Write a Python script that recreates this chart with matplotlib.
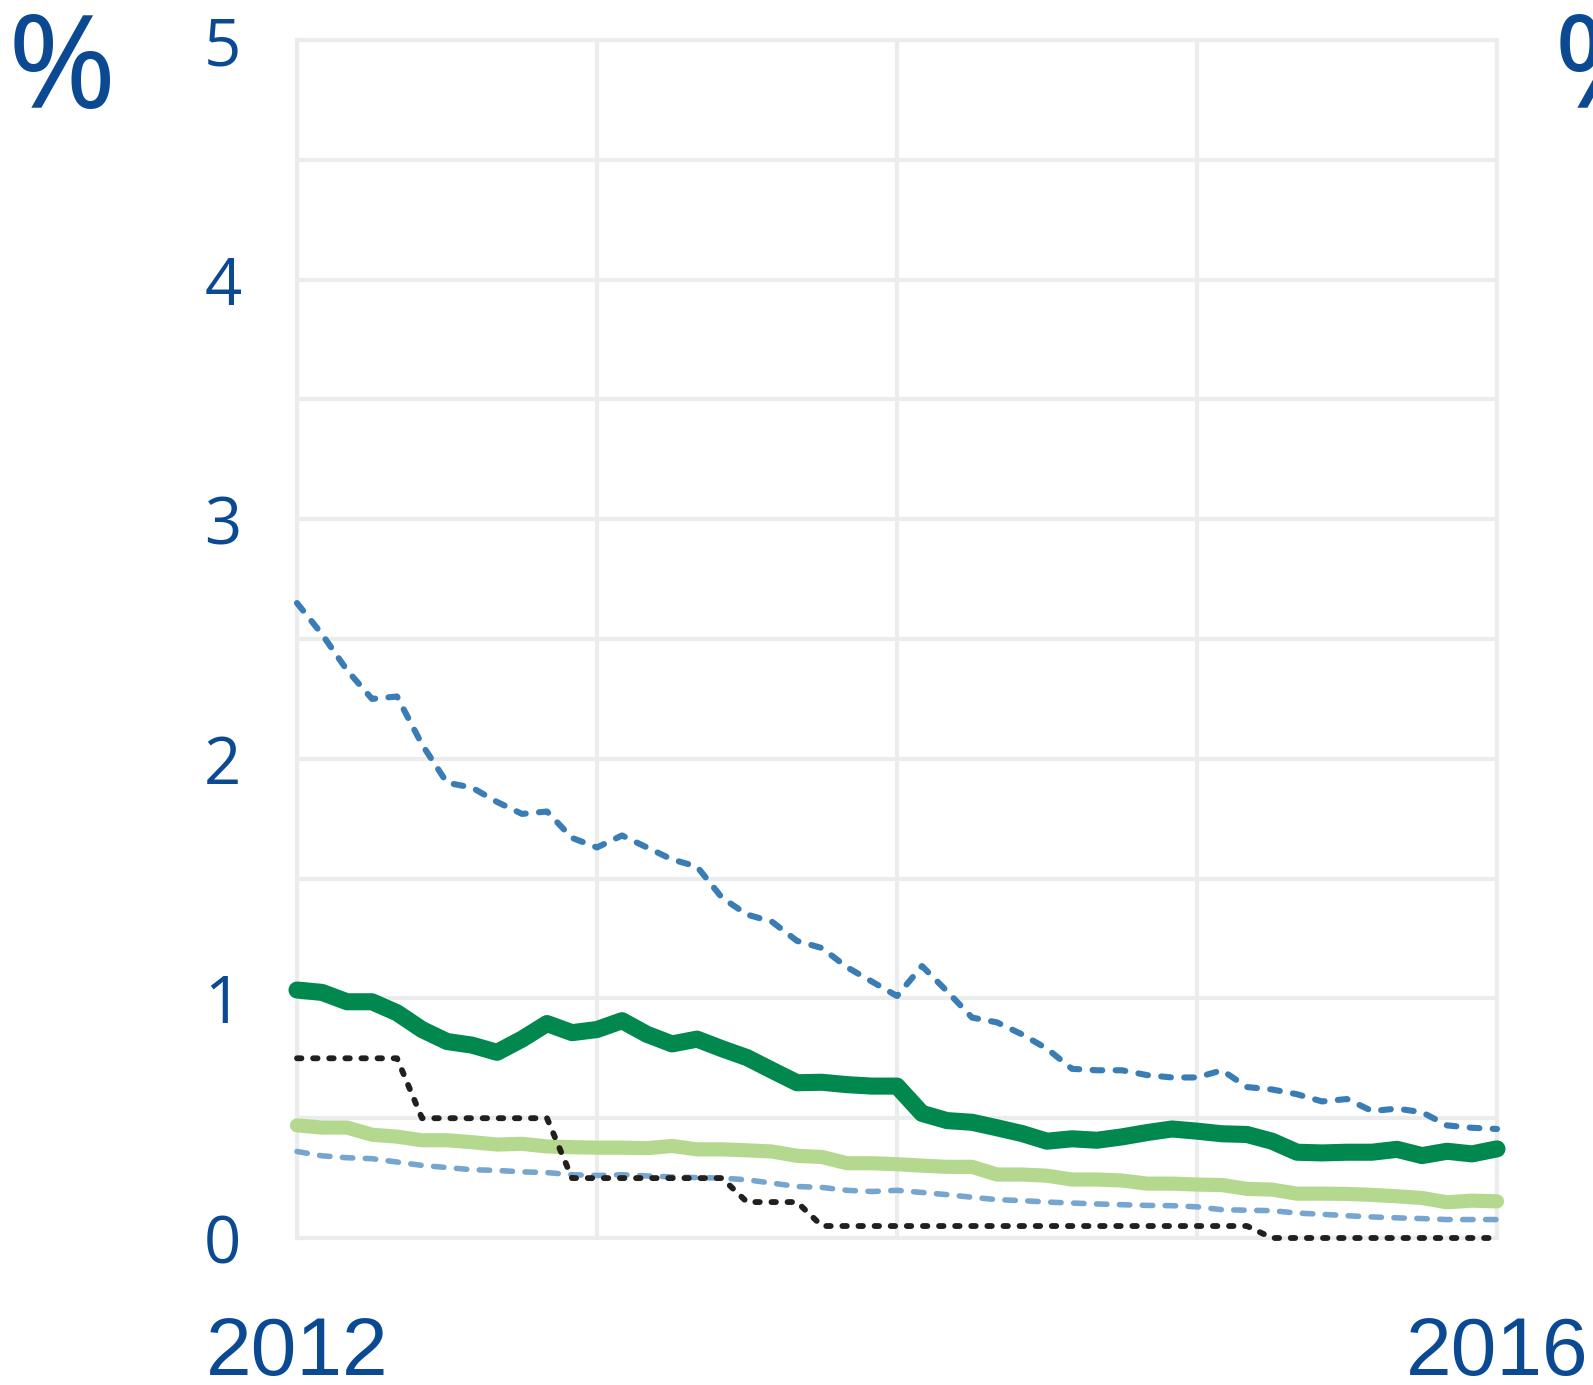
import matplotlib
matplotlib.use("Agg")
import matplotlib.pyplot as plt
import numpy as np

plt.rcParams['lines.scale_dashes'] = False

# ---- data (monthly, Jan 2012 .. Jan 2016) ----
n_months = 49
series_top_blue = [2.65, 2.52, 2.37, 2.25, 2.26, 2.06, 1.90, 1.88, 1.82, 1.77, 1.78, 1.67,
                   1.63, 1.68, 1.63, 1.58, 1.55, 1.42, 1.35, 1.32, 1.24, 1.21, 1.13, 1.07,
                   1.01, 1.135, 1.03, 0.92, 0.90, 0.85, 0.79, 0.706, 0.70, 0.70, 0.68, 0.67,
                   0.67, 0.70, 0.63, 0.62, 0.60, 0.57, 0.58, 0.53, 0.54, 0.525, 0.47, 0.46,
                   0.455]
series_dark_green = [1.035, 1.025, 0.986, 0.986, 0.94, 0.87, 0.82, 0.805, 0.775, 0.83, 0.895, 0.857,
                     0.87, 0.907, 0.85, 0.81, 0.83, 0.79, 0.753, 0.70, 0.648, 0.65, 0.64, 0.634,
                     0.634, 0.52, 0.49, 0.483, 0.46, 0.436, 0.404, 0.414, 0.408, 0.422, 0.44, 0.455,
                     0.446, 0.435, 0.432, 0.404, 0.358, 0.355, 0.358, 0.358, 0.37, 0.344, 0.362, 0.351,
                     0.372]
series_light_green = [0.47, 0.461, 0.461, 0.431, 0.423, 0.408, 0.408, 0.40, 0.39, 0.393, 0.382, 0.379,
                      0.377, 0.377, 0.375, 0.384, 0.37, 0.37, 0.366, 0.361, 0.343, 0.338, 0.312, 0.312,
                      0.308, 0.302, 0.297, 0.297, 0.265, 0.265, 0.26, 0.244, 0.244, 0.24, 0.227, 0.227,
                      0.223, 0.221, 0.205, 0.202, 0.185, 0.185, 0.184, 0.18, 0.174, 0.167, 0.149, 0.156,
                      0.153]
series_light_blue = [0.361, 0.343, 0.335, 0.331, 0.317, 0.303, 0.294, 0.285, 0.282, 0.276, 0.273, 0.264,
                     0.261, 0.264, 0.259, 0.255, 0.252, 0.25, 0.243, 0.229, 0.215, 0.211, 0.199, 0.194,
                     0.199, 0.19, 0.181, 0.17, 0.16, 0.156, 0.15, 0.146, 0.142, 0.139, 0.136, 0.135,
                     0.13, 0.118, 0.116, 0.114, 0.104, 0.099, 0.093, 0.088, 0.084, 0.081, 0.077, 0.077,
                     0.077]
series_black = [0.75, 0.75, 0.75, 0.75, 0.75,
                0.5, 0.5, 0.5, 0.5, 0.5, 0.5,
                0.25, 0.25, 0.25, 0.25, 0.25, 0.25, 0.25,
                0.15, 0.15, 0.15,
                0.05, 0.05, 0.05, 0.05, 0.05, 0.05, 0.05, 0.05, 0.05, 0.05, 0.05, 0.05, 0.05, 0.05,
                0.05, 0.05, 0.05, 0.05,
                0, 0, 0, 0, 0, 0, 0, 0, 0, 0]
x_tick_labels = ["2012", "2016"]
y_tick_labels = ["0", "1", "2", "3", "4", "5"]

x = 2012 + np.arange(n_months) / 12.0

TEXT_BLUE = "#0b4a92"
GRID = "#ebecec"

fig = plt.figure(figsize=(15.93, 13.85), dpi=100)
ax = fig.add_axes([297/1593, 1 - 1238/1385, 1200/1593, (1238 - 40)/1385])
ax.set_xlim(2012, 2016)
ax.set_ylim(0, 5)

# grid
ax.set_xticks([2012, 2016])
ax.set_xticks([2013, 2014, 2015], minor=True)
ax.set_yticks(range(6))
ax.set_yticks(np.arange(0.5, 5, 1.0), minor=True)
ax.grid(True, which='both', color=GRID, linewidth=3.0, zorder=0)
ax.set_axisbelow(True)
for s in ax.spines.values():
    s.set_color(GRID)
    s.set_linewidth(3.0)
    s.set_zorder(0.5)
ax.tick_params(which='both', length=0)
ax.set_xticklabels(x_tick_labels, fontsize=59, color=TEXT_BLUE, family='Liberation Sans')
ax.set_yticklabels(y_tick_labels, fontsize=47, color=TEXT_BLUE, family='Open Sans')
ax.tick_params(axis='x', pad=56)
ax.tick_params(axis='y', pad=40)

# lines
ax.plot(x, series_light_blue, color="#76a6cf", linewidth=4.0, dashes=(7.5, 9.0),
        dash_capstyle='round', solid_capstyle='round', clip_on=False, zorder=3)
ax.plot(x, series_light_green, color="#b4d98e", linewidth=10.2,
        solid_capstyle='round', solid_joinstyle='round', clip_on=False, zorder=3)
ax.plot(x, series_black, color="#231f1c", linewidth=4.2, dashes=(3.2, 8.4),
        dash_capstyle='round', clip_on=False, zorder=4)
ax.plot(x, series_top_blue, color="#3a7db5", linewidth=4.4, dashes=(7.0, 9.6),
        dash_capstyle='round', clip_on=False, zorder=3)
ax.plot(x, series_dark_green, color="#00884f", linewidth=12.3,
        solid_capstyle='round', solid_joinstyle='round', clip_on=False, zorder=5)

# percent signs
fig.text(8/1593, 1 - 108/1385, "%", fontsize=94, fontweight='semibold', color=TEXT_BLUE,
         family='Noto Sans', ha='left', va='baseline')
fig.text(1554/1593, 1 - 108/1385, "%", fontsize=94, fontweight='semibold', color=TEXT_BLUE,
         family='Noto Sans', ha='left', va='baseline')

fig.savefig("out.png", dpi=100, facecolor='white')
